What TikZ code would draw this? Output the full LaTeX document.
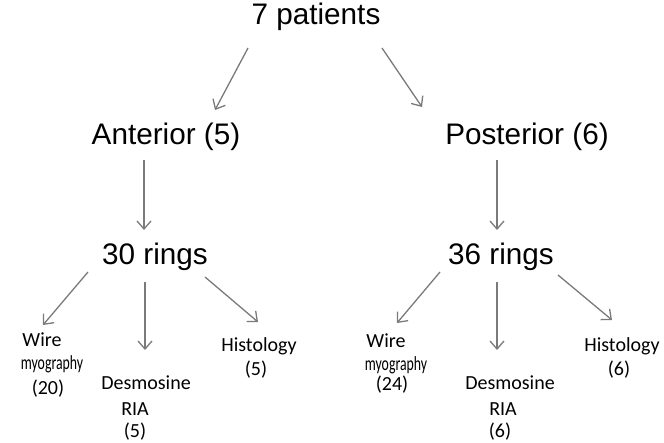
\documentclass[tikz,border=0pt]{standalone}
\usepackage{fontspec}
\usepackage{graphicx}
\setmainfont{Liberation Sans}
\newfontfamily\carl{Carlito}
\usetikzlibrary{arrows.meta}
\definecolor{arrgray}{HTML}{7A7A7A}
\tikzset{
  big/.style={anchor=base, inner sep=0pt, font=\fontsize{29.7}{32}\selectfont},
  small/.style={anchor=base, inner sep=0pt, font=\carl\fontsize{20}{22}\selectfont},
  arr/.style={draw=arrgray, line width=1.3pt, -{Straight Barb[length=8pt,width=14pt,line width=1.3pt]}}
}
\begin{document}
\begin{tikzpicture}[x=1pt,y=-1pt]
\useasboundingbox (0,0) rectangle (664,443);
% main nodes
\node[big] (pat) at (316,25) {7 patients};
\node[big] (ant) at (166,145) {Anterior (5)};
\node[big] (post) at (527,145) {Posterior (6)};
\node[big] (r30) at (155,265) {30 rings};
\node[big] (r36) at (501,265) {36 rings};
% left leaves
\node[small] (lw1) at (42,347) {Wire};
\node[small] (lw2) at (52,370) {\scalebox{0.69}[1]{myography}};
\node[small] (lw3) at (48,395) {(20)};
\node[small] (ld1) at (146,390) {Desmosine};
\node[small] (ld2) at (135,415) {RIA};
\node[small] (ld3) at (135,438) {(5)};
\node[small] (lh1) at (259,352) {Histology};
\node[small] (lh2) at (256,376) {(5)};
% right leaves
\node[small] (rw1) at (386,348) {Wire};
\node[small] (rw2) at (396,371) {\scalebox{0.69}[1]{myography}};
\node[small] (rw3) at (392,391) {(24)};
\node[small] (rd1) at (510,390) {Desmosine};
\node[small] (rd2) at (503,415) {RIA};
\node[small] (rd3) at (500,438) {(6)};
\node[small] (rh1) at (622,352) {Histology};
\node[small] (rh2) at (619,376) {(6)};
% connector end points
\coordinate (a1s) at (248,48);  \coordinate (a1e) at (215,110);
\coordinate (a2s) at (382,48);  \coordinate (a2e) at (422,107);
\coordinate (a3s) at (144,160); \coordinate (a3e) at (144,230);
\coordinate (a4s) at (497,160); \coordinate (a4e) at (497,230);
\coordinate (l1s) at (88,272);  \coordinate (l1e) at (43,325);
\coordinate (l2s) at (145,282); \coordinate (l2e) at (145,350);
\coordinate (l3s) at (205,277); \coordinate (l3e) at (258,322);
\coordinate (r1s) at (440,272); \coordinate (r1e) at (397,323);
\coordinate (r2s) at (497,282); \coordinate (r2e) at (497,350);
\coordinate (r3s) at (558,275); \coordinate (r3e) at (612,320);
% connectors
\draw[arr] (a1s) -- (a1e);
\draw[arr] (a2s) -- (a2e);
\draw[arr] (a3s) -- (a3e);
\draw[arr] (a4s) -- (a4e);
\draw[arr] (l1s) -- (l1e);
\draw[arr] (l2s) -- (l2e);
\draw[arr] (l3s) -- (l3e);
\draw[arr] (r1s) -- (r1e);
\draw[arr] (r2s) -- (r2e);
\draw[arr] (r3s) -- (r3e);
\end{tikzpicture}
\end{document}
